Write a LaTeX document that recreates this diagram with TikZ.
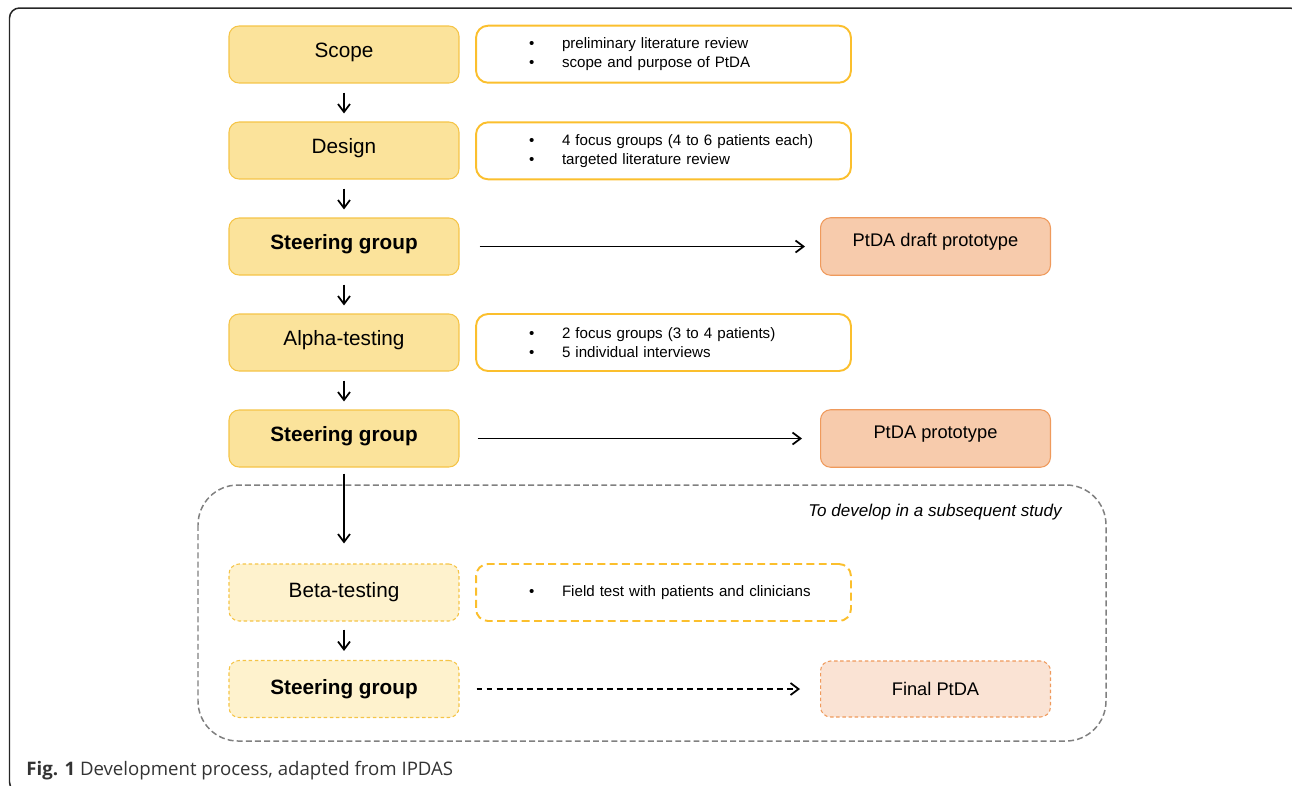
\documentclass[tikz,border=0pt]{standalone}
\usepackage{fontspec}
\setmainfont{Liberation Sans}
\newfontfamily\capfont{Open Sans}
\usetikzlibrary{arrows.meta}
\definecolor{stagefill}{HTML}{FBE39B}
\definecolor{stageline}{HTML}{F5C447}
\definecolor{palefill}{HTML}{FEF2CD}
\definecolor{infoline}{HTML}{FBBF2D}
\definecolor{resultfill}{HTML}{F7CBAC}
\definecolor{resultline}{HTML}{EF9A5C}
\definecolor{finalfill}{HTML}{FAE3D4}
\newcommand\itembul[1]{\hspace*{1.06cm}\makebox[0.66cm][l]{\textbullet}#1}

\begin{document}
\begin{tikzpicture}[x=0.02cm,y=-0.02cm,
		box/.style={rounded corners=0.2cm,minimum width=4.6cm,line width=0.6pt,font=\fontsize{11.8}{14}\selectfont},
		stage/.style={box,draw=stageline,fill=stagefill,inner ysep=0pt,text height=0.62cm,text depth=0.52cm},
		pale/.style={box,draw=stageline,fill=palefill,dash pattern=on 2pt off 1.5pt,minimum height=1.14cm},
		info/.style={draw=infoline,line width=1.1pt,rounded corners=0.24cm,text width=7.5cm,inner xsep=0pt,minimum height=1.14cm,align=left,font=\fontsize{8.6}{10.8}\selectfont},
		result/.style={box,draw=resultline,fill=resultfill,inner ysep=0pt,text height=0.57cm,text depth=0.58cm,font=\fontsize{10.4}{12}\selectfont},
		flow/.style={line width=1pt,-{Straight Barb[length=1.6mm,width=2.4mm]}}]
		\useasboundingbox (0,0) rectangle (1292,785);
		\draw[line width=0.85pt,black!85,rounded corners=0.2cm] (9.5,8) rectangle (1300,792);
		\draw[gray,line width=0.85pt,dash pattern=on 3.4pt off 1.8pt,rounded corners=0.8cm] (198,485) rectangle (1106,741);
		\node[stage] (scope) at (344,54.5) {Scope};
		\node[stage] (design) at (344,150.5) {Design};
		\node[stage] (steerA) at (344,246.5) {\textbf{Steering group}};
		\node[stage] (alpha) at (344,342.5) {Alpha-testing};
		\node[stage] (steerB) at (344,438.5) {\textbf{Steering group}};
		\node[pale] (beta) at (344,592.5) {Beta-testing};
		\node[pale] (steerC) at (344,689) {\textbf{Steering group}};
		\node[info] (scopeinfo) at (663.5,54.2) {\itembul{preliminary literature review}\\\itembul{scope and purpose of PtDA}};
		\node[info] (designinfo) at (663.5,150.8) {\itembul{4 focus groups (4 to 6 patients each)}\\\itembul{targeted literature review}};
		\node[info] (alphainfo) at (663.5,342.5) {\itembul{2 focus groups (3 to 4 patients)}\\\itembul{5 individual interviews}};
		\node[info,dash pattern=on 4.5pt off 2.5pt] (betainfo) at (663.5,592.5) {\itembul{Field test with patients and clinicians}};
		\node[result] (draft) at (935.5,246.5) {PtDA draft prototype};
		\node[result] (proto) at (935.5,438.5) {PtDA prototype};
		\node[box,draw=resultline,fill=finalfill,dash pattern=on 2pt off 1.5pt,minimum height=1.12cm,font=\fontsize{10.4}{12}\selectfont] (final) at (935.5,689) {Final PtDA};
		\node[anchor=east,inner sep=0pt,font=\itshape\fontsize{9.7}{12}\selectfont] (later) at (1062,512) {To develop in a subsequent study};
		\node[anchor=base west,inner sep=0pt,text=black!80,font=\capfont\fontsize{10.6}{12}\selectfont] (caption) at (26,775) {\textbf{Fig. 1} Development process, adapted from IPDAS};
		\draw[flow,shorten <=0.18cm,shorten >=0.16cm] (scope) -- (design);
		\draw[flow,shorten <=0.18cm,shorten >=0.16cm] (design) -- (steerA);
		\draw[flow,shorten <=0.18cm,shorten >=0.16cm] (steerA) -- (alpha);
		\draw[flow,shorten <=0.18cm,shorten >=0.16cm] (alpha) -- (steerB);
		\draw[flow,shorten <=0.12cm,shorten >=0.4cm] (steerB) -- (beta);
		\draw[flow,shorten <=0.16cm,shorten >=0.18cm] (beta) -- (steerC);
		\draw[flow,shorten <=0.4cm,shorten >=0.3cm] (steerA) -- (draft);
		\draw[flow,shorten <=0.36cm,shorten >=0.36cm] (steerB) -- (proto);
		\draw[flow,dash pattern=on 3.4pt off 2.3pt,shorten <=0.34cm,shorten >=0.4cm] (steerC) -- (final);
	\end{tikzpicture}
\end{document}
